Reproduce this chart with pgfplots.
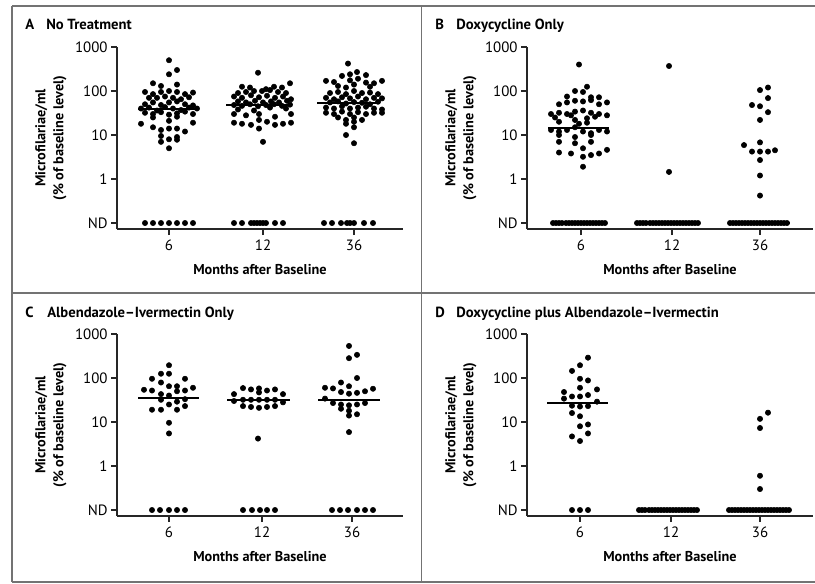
\documentclass[border=0pt]{standalone}
\usepackage{fontspec}
\setmainfont{PT Sans}
\usepackage{pgfplots}
\pgfplotsset{compat=1.18}

% one group of dots: #1 = category centre, #2 = rows "offset value\\"
\newcommand{\grp}[2]{\addplot[mydots] table[x expr=\thisrow{d}+#1, y=v, row sep=\\]{d v\\ #2};}

\pgfplotsset{
  mypanel/.style={
    scale only axis, width=214.5pt, height=136.5pt,
    anchor=south west, clip=false,
    axis lines=left, axis line style={-, line width=0.9pt, black!85},
    ymin=0.0731, ymax=1000,
    ytick={0.1,1,10,100,1000}, yticklabels={ND,1,10,100,1000},
    yminorticks=false,
    tick align=outside, major tick length=4.5pt,
    tick style={line width=0.9pt, black!85},
    xticklabels={6,12,36},
    tick label style={font=\fontsize{11.2}{12}\selectfont},
    yticklabel style={xshift=1pt},
    xlabel={Months after Baseline},
    ylabel={Microfilariae/ml\\(\% of baseline level)},
    label style={font=\fontsize{10.7}{13.5}\selectfont\bfseries},
    xlabel style={at={(axis description cs:0.5,-0.225)}, anchor=center},
    ylabel style={at={(axis description cs:-0.231,0.5)}, anchor=center, align=center},
  },
  mydots/.style={only marks, mark=*, mark size=2pt, black},
  mymed/.style={black, line width=1.5pt, mark=none},
}

\begin{document}
\begin{tikzpicture}[x=0.75pt, y=-0.75pt]
\path[use as bounding box] (0,0) rectangle (815,583);

% frame
\draw[black!55, line width=1.1pt] (12,6) -- (830,6);
\draw[black!55, line width=1.1pt] (12,6) -- (12,582);
\draw[black!55, line width=1.1pt] (12,582) -- (830,582);
\draw[black!55, line width=1.1pt] (12,293) -- (830,293);
\draw[black!55, line width=1.1pt] (421.5,6) -- (421.5,582);

% titles
\begin{scope}[font=\fontsize{11}{13}\selectfont\bfseries]
\node[anchor=base west, inner sep=0] at (25,29) {A};
\node[anchor=base west, inner sep=0] at (46,29) {No Treatment};
\node[anchor=base west, inner sep=0] at (435,29) {B};
\node[anchor=base west, inner sep=0] at (456,29) {Doxycycline Only};
\node[anchor=base west, inner sep=0] at (25,317) {C};
\node[anchor=base west, inner sep=0] at (47,317) {Albendazole--Ivermectin Only};
\node[anchor=base west, inner sep=0] at (435,317) {D};
\node[anchor=base west, inner sep=0] at (456,317) {Doxycycline plus Albendazole--Ivermectin};
\end{scope}

% ---------------- A: No Treatment
\begin{axis}[ymode=log, mypanel, at={(87.75pt,-171.75pt)}, xmin=-52, xmax=234, xtick={0,94,185}]
\grp{0}{0 500\\ 8 300\\ 0 240\\ -16 150\\ -8 130\\ 8 140\\ -24 95\\ -16 85\\ -8 95\\ 0 100\\ 8 95\\ 16 85\\ 24 92\\
 -20 70\\ -12 70\\ -4 75\\ 4 70\\ 12 65\\ 20 72\\ -24 50\\ -16 55\\ -8 48\\ 0 55\\ 8 58\\ 16 50\\ 24 47\\
 -28 40\\ -20 42\\ -12 36\\ -4 43\\ 4 40\\ 12 37\\ 20 42\\ 28 40\\ -24 32\\ -16 30\\ -8 33\\ 0 29\\ 8 31\\ 16 34\\ 24 30\\
 -16 25\\ 0 21\\ 8 26\\ -28 18\\ -16 15\\ -8 13\\ 0 14\\ 8 14\\ 16 12\\ 24 19\\ -8 9.5\\ 0 8\\ 8 9\\ 8 7.8\\ -8 7\\ 0 5\\}
\grp{0}{-24 0.1\\ -16 0.1\\ -8 0.1\\ 0 0.1\\ 8 0.1\\ 16 0.1\\ 24 0.1\\}
\grp{94}{-5 260\\ -21 125\\ -13 120\\ 3 110\\ 11 125\\ 19 120\\ 27 150\\ -25 90\\ -17 95\\ -9 100\\ -1 100\\ 7 105\\ 15 95\\ 23 90\\
 -29 75\\ -21 70\\ -12 80\\ -4 72\\ 4 78\\ 12 70\\ 20 75\\ 28 65\\ -25 58\\ -17 55\\ -8 60\\ 0 55\\ 8 58\\ 16 55\\ 24 60\\
 -29 48\\ -21 46\\ -13 50\\ -5 45\\ 3 48\\ 11 50\\ 19 46\\ 27 49\\ -25 38\\ -9 36\\ 7 42\\ 23 40\\ -29 30\\ -17 28\\ -4 30\\ 12 26\\ 28 30\\
 -29 19\\ -21 18\\ -12 17\\ -4 22\\ 4 20\\ 12 17\\ 20 18\\ 28 19\\ -4 14\\ 0 7\\}
\grp{94}{-29 0.1\\ -21 0.1\\ -12 0.1\\ -9 0.1\\ -6 0.1\\ -3 0.1\\ 0 0.1\\ 3 0.1\\ 12 0.1\\ 20 0.1\\}
\grp{185}{-6 420\\ 3 270\\ -12 220\\ -4 240\\ 12 230\\ -28 170\\ -20 160\\ -4 175\\ 4 190\\ 12 155\\ 20 150\\ 28 170\\
 -16 130\\ 0 140\\ -8 120\\ 16 125\\ -24 90\\ -16 95\\ -8 85\\ 0 100\\ 8 90\\ 16 92\\ 24 85\\
 -28 70\\ -20 65\\ -12 72\\ -4 68\\ 4 75\\ 12 65\\ 20 70\\ 28 68\\ -24 55\\ -16 58\\ -8 52\\ 0 56\\ 8 54\\ 16 50\\ 24 57\\
 -28 42\\ -20 40\\ -12 45\\ -4 40\\ 4 42\\ 12 44\\ 20 40\\ 28 38\\ -28 32\\ -20 30\\ -12 34\\ -4 30\\ 4 33\\ 12 30\\ 20 32\\ 28 32\\
 -16 25\\ -8 22\\ 0 25\\ 8 22\\ 0 20\\ -8 18\\ 0 15\\ -8 10\\ 0 6.5\\}
\grp{185}{-30 0.1\\ -22 0.1\\ -13 0.1\\ -7 0.1\\ -4 0.1\\ 0 0.1\\ 10 0.1\\ 19 0.1\\}
\addplot[mymed] coordinates {(-31,40) (30,40)};
\addplot[mymed] coordinates {(57,48) (120,48)};
\addplot[mymed] coordinates {(148,53) (211,53)};
\end{axis}

% ---------------- B: Doxycycline Only
\begin{axis}[ymode=log, mypanel, at={(395.25pt,-171.75pt)}, xmin=-54, xmax=232, xtick={0,91,179}]
\grp{0}{-2 400\\ 6 125\\ -6 100\\ 2 95\\ -14 75\\ 10 72\\ 18 72\\ -22 50\\ -14 55\\ -6 60\\ 2 58\\ 10 62\\ 18 50\\ 26 55\\
 -30 30\\ -22 32\\ -14 30\\ -6 34\\ 2 36\\ 10 32\\ 18 30\\ 26 28\\ -26 25\\ -10 28\\ 6 24\\ 14 26\\ -22 20\\ -6 22\\ 6 19\\ -2 18\\
 -30 13\\ -22 12\\ -14 13\\ -6 15\\ 2 12\\ 10 11\\ 18 13\\ 26 12\\ -22 10\\ -6 9\\ 10 10\\ -22 7\\ -6 6.5\\ 2 5\\ 10 7\\
 -22 4\\ -10 3.8\\ 2 3.2\\ 10 3.5\\ 18 3.8\\ 26 4.6\\ 2 1.9\\}
\grp{0}{-28 0.1\\ -25 0.1\\ -22 0.1\\ -19 0.1\\ -15 0.1\\ -12 0.1\\ -9 0.1\\ -6 0.1\\ -3 0.1\\ 0 0.1\\ 3 0.1\\ 6 0.1\\ 9 0.1\\ 12 0.1\\ 15 0.1\\ 18 0.1\\ 21 0.1\\ 24 0.1\\}
\grp{91}{-3 370\\ -3 1.45\\}
\grp{91}{-35 0.1\\ -32 0.1\\ -29 0.1\\ -26 0.1\\ -22 0.1\\ -19 0.1\\ -16 0.1\\ -13 0.1\\ -10 0.1\\ -7 0.1\\ -4 0.1\\ -1 0.1\\ 2 0.1\\ 5 0.1\\ 8 0.1\\ 11 0.1\\ 14 0.1\\ 17 0.1\\ 20 0.1\\ 23 0.1\\ 26 0.1\\}
\grp{179}{8 120\\ 0 105\\ 8 69\\ -8 48\\ 0 45\\ 8 33\\ 0 22\\ -16 5.9\\ 0 6.8\\ -8 4.2\\ 0 4.2\\ 8 4.2\\ 15 4.5\\ 0 2.7\\ 0 1.2\\ 0 0.42\\}
\grp{179}{-30 0.1\\ -27 0.1\\ -24 0.1\\ -21 0.1\\ -18 0.1\\ -15 0.1\\ -12 0.1\\ -9 0.1\\ -6 0.1\\ -3 0.1\\ 0 0.1\\ 3 0.1\\ 6 0.1\\ 9 0.1\\ 12 0.1\\ 15 0.1\\ 18 0.1\\ 21 0.1\\ 24 0.1\\ 27 0.1\\}
\addplot[mymed] coordinates {(-33,14.5) (28,14.5)};
\addplot[mymed] coordinates {(56,0.1) (118,0.1)};
\addplot[mymed] coordinates {(149,0.1) (209,0.1)};
\end{axis}

% ---------------- C: Albendazole-Ivermectin Only
\begin{axis}[ymode=log, mypanel, at={(87.75pt,-387pt)}, xmin=-52, xmax=234, xtick={0,93,183}]
\grp{0}{0 195\\ -8 125\\ 0 125\\ -17 96\\ 16 96\\ -8 79\\ 0 65\\ 8 65\\ -25 54\\ -17 52\\ 16 52\\ 24 60\\ 8 50\\ -8 43\\ 0 40\\
 -8 32\\ 16 33\\ 8 29\\ 0 25\\ -17 19\\ -8 19\\ 8 19\\ 16 23\\ 0 9.6\\ 0 5.5\\}
\grp{0}{-17 0.1\\ -9 0.1\\ 0 0.1\\ 8 0.1\\ 16 0.1\\}
\grp{93}{-28 43\\ -19 59\\ -11 55\\ -3 47\\ 5 52\\ 13 55\\ 21 43\\ -3 58\\ -28 30\\ -19 32\\ -11 32\\ -3 32\\ 5 32\\ 13 32\\ 21 28\\
 -19 23\\ -11 22\\ -3 21\\ 5 22\\ 13 23\\ -4 4.2\\}
\grp{93}{-19 0.1\\ -10 0.1\\ -2 0.1\\ 5 0.1\\ 13 0.1\\}
\grp{183}{-3 535\\ -3 282\\ 5 336\\ 5 100\\ -11 79\\ -3 65\\ -27 60\\ -19 58\\ 5 46\\ -11 48\\ -3 44\\ 13 50\\ 21 57\\
 -27 34\\ -19 27\\ -11 25\\ -3 24\\ 5 25\\ 13 27\\ -11 20\\ -3 18\\ -3 14\\ 5 15\\ -3 5.9\\}
\grp{183}{-20 0.1\\ -12 0.1\\ -4 0.1\\ 5 0.1\\ 13 0.1\\ 21 0.1\\}
\addplot[mymed] coordinates {(-31,35) (30,35)};
\addplot[mymed] coordinates {(58,31.5) (121,31.5)};
\addplot[mymed] coordinates {(149,31) (211,31)};
\end{axis}

% ---------------- D: Doxycycline plus Albendazole-Ivermectin
\begin{axis}[ymode=log, mypanel, at={(395.25pt,-387pt)}, xmin=-53, xmax=233, xtick={0,91,180}]
\grp{0}{8 290\\ 0 195\\ -8 145\\ 0 96\\ 8 88\\ 0 60\\ 17 55\\ -16 48\\ -8 38\\ 0 38\\ 8 41\\ -16 34\\ 17 29\\
 -8 23.5\\ 0 22.5\\ 8 23\\ -8 16\\ 0 13.5\\ 0 8\\ 8 8.8\\ -8 4.7\\ 8 5.5\\ 0 3.7\\}
\grp{0}{-8 0.1\\ 0 0.1\\ 8 0.1\\}
\grp{91}{-32 0.1\\ -29 0.1\\ -26 0.1\\ -22 0.1\\ -19 0.1\\ -16 0.1\\ -13 0.1\\ -10 0.1\\ -7 0.1\\ -4 0.1\\ -1 0.1\\ 2 0.1\\ 5 0.1\\ 8 0.1\\ 11 0.1\\ 14 0.1\\ 17 0.1\\ 20 0.1\\ 23 0.1\\ 26 0.1\\}
\grp{180}{8 16.3\\ 0 11.8\\ 0 7.3\\ 0 0.6\\ 0 0.3\\}
\grp{180}{-31 0.1\\ -28 0.1\\ -25 0.1\\ -22 0.1\\ -19 0.1\\ -16 0.1\\ -13 0.1\\ -10 0.1\\ -7 0.1\\ -4 0.1\\ -1 0.1\\ 2 0.1\\ 5 0.1\\ 8 0.1\\ 11 0.1\\ 14 0.1\\ 17 0.1\\ 20 0.1\\ 23 0.1\\ 26 0.1\\ 29 0.1\\}
\addplot[mymed] coordinates {(-33,27) (28,27)};
\addplot[mymed] coordinates {(58,0.1) (119,0.1)};
\addplot[mymed] coordinates {(149,0.1) (210,0.1)};
\end{axis}
\end{tikzpicture}
\end{document}
